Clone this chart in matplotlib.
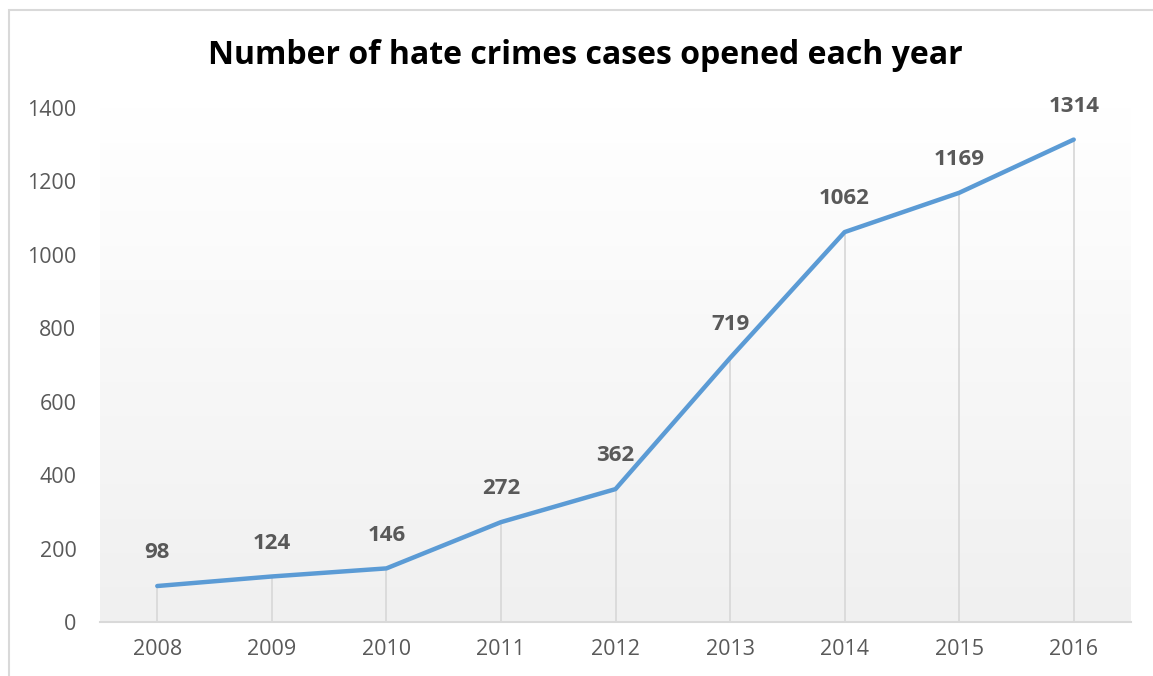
import numpy as np
import matplotlib.pyplot as plt
from matplotlib.patches import Rectangle
from matplotlib.colors import LinearSegmentedColormap

years = ['2008', '2009', '2010', '2011', '2012', '2013', '2014', '2015', '2016']
cases = [98, 124, 146, 272, 362, 719, 1062, 1169, 1314]
yticks = [0, 200, 400, 600, 800, 1000, 1200, 1400]

plt.rcParams['font.family'] = ['Open Sans', 'DejaVu Sans']

fig = plt.figure(figsize=(11.53, 6.76), dpi=100)
ax = fig.add_axes([100 / 1153, 1 - 622 / 676, 1031 / 1153, 514 / 676])

# chart border
fig.patches.append(Rectangle((9 / 1153, -0.05), 1.2, 1 - 10 / 676 + 0.05,
                             transform=fig.transFigure, fill=False,
                             edgecolor='#d9d9d9', linewidth=1.5))

x = np.arange(len(years))
ax.set_xlim(-0.5, len(years) - 0.5)
ax.set_ylim(0, 1400)

# vertical gradient background (white top -> light gray bottom)
grad = np.linspace(1.0, 0.0, 256).reshape(-1, 1)
cmap = LinearSegmentedColormap.from_list('g', ['#f0f0f0', '#ffffff'])
ax.imshow(grad, extent=[-0.5, len(years) - 0.5, 0, 1400], aspect='auto',
          cmap=cmap, origin='upper', zorder=0, interpolation='bicubic')

ax.vlines(x, 0, cases, color='#d9d9d9', linewidth=1.3, zorder=1)
ax.plot(x, cases, color='#5b9bd5', linewidth=3.2, solid_capstyle='round', zorder=3)

for xi, v in zip(x, cases):
    ax.annotate(str(v), (xi, v), xytext=(0, 24), textcoords='offset points',
                ha='center', va='center', fontsize=16, fontweight='bold', color='#595959')

ax.set_xticks(x)
ax.set_xticklabels(years)
ax.set_yticks(yticks)
ax.tick_params(axis='both', length=0, labelsize=15.5, labelcolor='#595959')
ax.tick_params(axis='x', pad=12)
ax.tick_params(axis='y', pad=17)
for s in ['top', 'right', 'left']:
    ax.spines[s].set_visible(False)
ax.spines['bottom'].set_color('#d9d9d9')
ax.spines['bottom'].set_linewidth(1.5)

fig.text(585 / 1153, 1 - 55 / 676, 'Number of hate crimes cases opened each year',
         ha='center', va='center', fontsize=23, fontweight='bold', color='black')

fig.savefig('out.png', dpi=100)
